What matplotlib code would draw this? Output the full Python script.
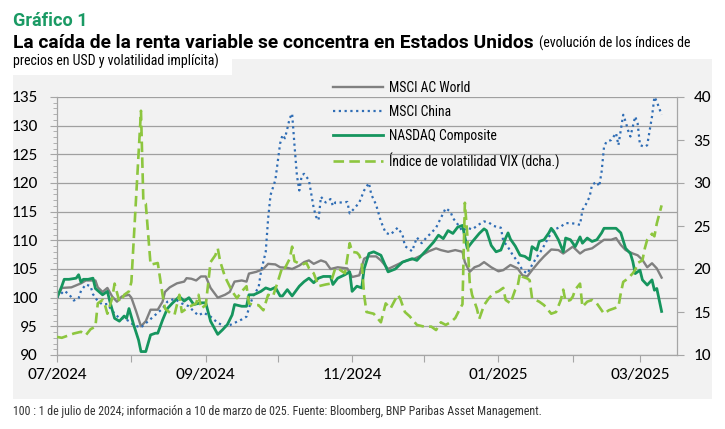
import matplotlib
matplotlib.use("Agg")
import matplotlib.pyplot as plt
import matplotlib.dates as mdates
from matplotlib import font_manager
from matplotlib.patches import Rectangle
from matplotlib.ticker import MultipleLocator, FuncFormatter
import pandas as pd

# ---- data (100 = 1 Jul 2024, VIX in points) ----
world_dates = ["2024-07-01", "2024-07-03", "2024-07-07", "2024-07-11", "2024-07-13", "2024-07-17",
               "2024-07-18", "2024-07-20", "2024-07-22", "2024-07-24", "2024-07-26", "2024-07-28",
               "2024-07-31", "2024-08-01", "2024-08-03", "2024-08-05", "2024-08-07", "2024-08-09",
               "2024-08-12", "2024-08-14", "2024-08-15", "2024-08-17", "2024-08-20", "2024-08-23",
               "2024-08-24", "2024-08-26", "2024-08-28", "2024-08-30", "2024-09-01", "2024-09-03",
               "2024-09-06", "2024-09-09", "2024-09-11", "2024-09-13", "2024-09-16", "2024-09-18",
               "2024-09-19", "2024-09-22", "2024-09-25", "2024-09-27", "2024-09-30", "2024-10-02",
               "2024-10-05", "2024-10-07", "2024-10-10", "2024-10-12", "2024-10-14", "2024-10-16",
               "2024-10-19", "2024-10-21", "2024-10-23", "2024-10-26", "2024-10-30", "2024-11-01",
               "2024-11-04", "2024-11-06", "2024-11-08", "2024-11-11", "2024-11-13", "2024-11-16",
               "2024-11-19", "2024-11-22", "2024-11-24", "2024-11-27", "2024-11-30", "2024-12-03",
               "2024-12-06", "2024-12-08", "2024-12-11", "2024-12-14", "2024-12-17", "2024-12-18",
               "2024-12-20", "2024-12-22", "2024-12-24", "2024-12-26", "2024-12-29", "2025-01-01",
               "2025-01-03", "2025-01-06", "2025-01-09", "2025-01-11", "2025-01-13", "2025-01-15",
               "2025-01-18", "2025-01-20", "2025-01-23", "2025-01-26", "2025-01-28", "2025-01-30",
               "2025-02-01", "2025-02-04", "2025-02-06", "2025-02-09", "2025-02-12", "2025-02-14",
               "2025-02-17", "2025-02-19", "2025-02-21", "2025-02-23", "2025-02-26", "2025-02-28",
               "2025-03-02", "2025-03-04", "2025-03-06", "2025-03-08", "2025-03-10"]
world = [100, 101.7, 101.8, 102.5, 103, 103, 101.8, 101, 101.7, 100.2, 99.3, 100.2,
         100.5, 100, 97.6, 95, 95.9, 97.9, 97.9, 99.3, 101, 101.8, 102.5, 102.8,
         103.4, 103.3, 103, 103.7, 103.7, 101.7, 100, 100.5, 101, 102.8, 103, 102.8,
         104.2, 104.5, 105, 105.9, 105.8, 105.3, 105.2, 105, 105.6, 106.2, 106.5, 105.9,
         106.5, 106.2, 105, 105.3, 105.1, 103.6, 103.9, 106.8, 107.2, 107.2, 106.5, 105,
         105.6, 106.2, 106.5, 106.8, 107.4, 108.1, 108.6, 108.3, 108, 108.3, 108, 106.2,
         104.5, 105.3, 105.6, 106.2, 105.3, 104.6, 104.8, 105.7, 105.1, 103.9, 103.7, 104.8,
         106.3, 107.2, 108.4, 108.3, 107.7, 108.3, 108.9, 107.7, 108.3, 108.6, 109.5, 110.1,
         110.1, 110.4, 109.2, 108.3, 107.7, 107.4, 106.6, 105.3, 106, 105.1, 103.5]

china_dates = ["2024-07-01", "2024-07-04", "2024-07-06", "2024-07-08", "2024-07-10", "2024-07-11",
               "2024-07-13", "2024-07-15", "2024-07-16", "2024-07-18", "2024-07-20", "2024-07-22",
               "2024-07-24", "2024-07-27", "2024-07-29", "2024-07-31", "2024-08-02", "2024-08-05",
               "2024-08-08", "2024-08-11", "2024-08-14", "2024-08-16", "2024-08-19", "2024-08-22",
               "2024-08-25", "2024-08-27", "2024-08-29", "2024-08-31", "2024-09-03", "2024-09-06",
               "2024-09-09", "2024-09-11", "2024-09-13", "2024-09-16", "2024-09-18", "2024-09-19",
               "2024-09-21", "2024-09-23", "2024-09-24", "2024-09-26", "2024-09-27", "2024-09-28",
               "2024-09-30", "2024-10-01", "2024-10-02", "2024-10-03", "2024-10-04", "2024-10-05",
               "2024-10-06", "2024-10-07", "2024-10-08", "2024-10-09", "2024-10-10", "2024-10-11",
               "2024-10-12", "2024-10-14", "2024-10-16", "2024-10-17", "2024-10-18", "2024-10-19",
               "2024-10-21", "2024-10-23", "2024-10-24", "2024-10-25", "2024-10-28", "2024-10-30",
               "2024-10-31", "2024-11-02", "2024-11-04", "2024-11-06", "2024-11-08", "2024-11-09",
               "2024-11-11", "2024-11-13", "2024-11-15", "2024-11-17", "2024-11-20", "2024-11-22",
               "2024-11-23", "2024-11-25", "2024-11-26", "2024-11-28", "2024-11-30", "2024-12-02",
               "2024-12-04", "2024-12-06", "2024-12-08", "2024-12-10", "2024-12-12", "2024-12-13",
               "2024-12-15", "2024-12-17", "2024-12-19", "2024-12-21", "2024-12-24", "2024-12-26",
               "2024-12-28", "2024-12-30", "2025-01-02", "2025-01-03", "2025-01-05", "2025-01-07",
               "2025-01-09", "2025-01-11", "2025-01-12", "2025-01-13", "2025-01-15", "2025-01-17",
               "2025-01-19", "2025-01-22", "2025-01-24", "2025-01-27", "2025-01-29", "2025-01-31",
               "2025-02-02", "2025-02-04", "2025-02-05", "2025-02-06", "2025-02-08", "2025-02-09",
               "2025-02-11", "2025-02-12", "2025-02-13", "2025-02-14", "2025-02-15", "2025-02-17",
               "2025-02-19", "2025-02-20", "2025-02-22", "2025-02-23", "2025-02-24", "2025-02-25",
               "2025-02-27", "2025-02-28", "2025-03-01", "2025-03-03", "2025-03-04", "2025-03-06",
               "2025-03-07", "2025-03-08", "2025-03-10"]
china = [100, 101.2, 100.6, 99.5, 99.9, 101.2, 102.3, 102, 100.6, 99.4, 98.8, 98.9,
         97.7, 96.4, 96.4, 95.9, 95.2, 94.8, 95.9, 97, 98.1, 99.3, 99.8, 99,
         98.5, 97.6, 96.9, 97.4, 96.7, 95.6, 95, 95.2, 95.6, 96.2, 96.7, 98.2,
         100.6, 101.7, 104.5, 108, 113.8, 117.9, 120.5, 123.7, 126.9, 128.4, 127.8, 129.5,
         131.3, 132.1, 126.5, 121.3, 118.7, 121.3, 121.6, 120.5, 115.6, 114.1, 113.5, 117.6,
         116.6, 117.2, 116, 116.6, 116.6, 116.7, 114.7, 115.6, 116.6, 118.7, 120, 118,
         116.2, 113.3, 111.3, 111, 112.2, 111, 109, 108.4, 108.1, 110.5, 109.5, 110.5,
         111.3, 112.2, 113.9, 115.6, 115, 113.9, 112.8, 111.6, 112.2, 111.9, 112.8, 113.3,
         113.1, 112.5, 112.2, 109.9, 108.8, 107.4, 106.3, 104.8, 104.5, 104.2, 105.7, 107.1,
         108.3, 110.6, 111.8, 112.4, 113, 113, 112.9, 112.7, 115.3, 115.9, 117.6, 119.7,
         120.2, 119.4, 122, 126.3, 127.2, 127.5, 128.7, 126.6, 131.9, 130.7, 129.2, 128.1,
         131.6, 130.4, 126.6, 126.3, 126.6, 131.6, 135, 134.2, 131.9]

nasdaq_dates = ["2024-07-01", "2024-07-03", "2024-07-04", "2024-07-06", "2024-07-09", "2024-07-10",
                "2024-07-11", "2024-07-12", "2024-07-14", "2024-07-16", "2024-07-17", "2024-07-20",
                "2024-07-22", "2024-07-23", "2024-07-25", "2024-07-27", "2024-07-29", "2024-07-30",
                "2024-07-31", "2024-08-02", "2024-08-04", "2024-08-05", "2024-08-07", "2024-08-09",
                "2024-08-11", "2024-08-12", "2024-08-14", "2024-08-16", "2024-08-18", "2024-08-21",
                "2024-08-23", "2024-08-25", "2024-08-27", "2024-08-30", "2024-09-01", "2024-09-03",
                "2024-09-06", "2024-09-08", "2024-09-10", "2024-09-12", "2024-09-13", "2024-09-16",
                "2024-09-18", "2024-09-19", "2024-09-21", "2024-09-24", "2024-09-26", "2024-09-28",
                "2024-09-30", "2024-10-02", "2024-10-03", "2024-10-05", "2024-10-07", "2024-10-10",
                "2024-10-12", "2024-10-14", "2024-10-16", "2024-10-18", "2024-10-20", "2024-10-23",
                "2024-10-24", "2024-10-26", "2024-10-29", "2024-10-31", "2024-11-01", "2024-11-03",
                "2024-11-05", "2024-11-06", "2024-11-08", "2024-11-10", "2024-11-13", "2024-11-16",
                "2024-11-19", "2024-11-22", "2024-11-24", "2024-11-26", "2024-11-28", "2024-11-30",
                "2024-12-02", "2024-12-05", "2024-12-07", "2024-12-09", "2024-12-11", "2024-12-13",
                "2024-12-15", "2024-12-17", "2024-12-19", "2024-12-21", "2024-12-24", "2024-12-26",
                "2024-12-27", "2024-12-29", "2024-12-31", "2025-01-02", "2025-01-04", "2025-01-05",
                "2025-01-06", "2025-01-08", "2025-01-10", "2025-01-12", "2025-01-14", "2025-01-15",
                "2025-01-17", "2025-01-18", "2025-01-20", "2025-01-22", "2025-01-23", "2025-01-24",
                "2025-01-26", "2025-01-28", "2025-01-29", "2025-01-31", "2025-02-02", "2025-02-04",
                "2025-02-05", "2025-02-07", "2025-02-09", "2025-02-11", "2025-02-13", "2025-02-14",
                "2025-02-17", "2025-02-19", "2025-02-21", "2025-02-23", "2025-02-25", "2025-02-26",
                "2025-02-27", "2025-03-01", "2025-03-02", "2025-03-04", "2025-03-06", "2025-03-07",
                "2025-03-08", "2025-03-10"]
nasdaq = [100, 102, 103.2, 103.2, 103.4, 104, 102.7, 103.2, 103.2, 103.4, 101.6, 100.5,
          101.1, 99.4, 96.4, 95.9, 96.8, 96.4, 98.1, 95.2, 92.6, 90.6, 90.6, 93.5,
          93.8, 93.8, 96.1, 98.1, 99, 100.2, 99.4, 100, 98.8, 99.1, 99.1, 95.9,
          93.6, 94.4, 95.3, 97, 98.8, 98.5, 98.5, 100.5, 100.5, 101.1, 101.7, 101.4,
          101.8, 100.3, 100.3, 101.4, 100.3, 102, 102.8, 103.4, 102.6, 103.4, 103.7, 103.7,
          102.3, 103.4, 104, 104.5, 101.1, 102, 101.7, 105, 107.7, 108, 107.4, 104.5,
          105, 106.2, 106.5, 106.8, 106.5, 107.4, 108.3, 109.7, 110.9, 110.3, 111.7, 111.2,
          112.3, 112.6, 108.6, 109.7, 111.2, 112, 111.7, 109.1, 108, 108.3, 110.4, 111.3,
          110.2, 109, 107.4, 107.2, 106.6, 108.9, 108.3, 109.8, 110.1, 111.3, 112.1, 111.6,
          110.1, 108, 110.4, 110.1, 108.9, 110.6, 109.5, 110.4, 109.8, 110.1, 111.3, 112.1,
          112.1, 112.1, 111.3, 108.6, 107.7, 106.3, 104.2, 104.8, 103.1, 102.2, 103.1, 101.3,
          101.6, 97.6]

vix_dates = ["2024-07-01", "2024-07-03", "2024-07-06", "2024-07-08", "2024-07-11", "2024-07-13",
             "2024-07-15", "2024-07-17", "2024-07-18", "2024-07-20", "2024-07-21", "2024-07-22",
             "2024-07-24", "2024-07-25", "2024-07-27", "2024-07-28", "2024-07-29", "2024-07-31",
             "2024-08-01", "2024-08-02", "2024-08-05", "2024-08-06", "2024-08-07", "2024-08-09",
             "2024-08-12", "2024-08-14", "2024-08-15", "2024-08-18", "2024-08-19", "2024-08-21",
             "2024-08-22", "2024-08-25", "2024-08-28", "2024-08-29", "2024-08-30", "2024-09-01",
             "2024-09-03", "2024-09-05", "2024-09-06", "2024-09-07", "2024-09-09", "2024-09-12",
             "2024-09-14", "2024-09-16", "2024-09-18", "2024-09-19", "2024-09-21", "2024-09-23",
             "2024-09-25", "2024-09-27", "2024-09-29", "2024-10-01", "2024-10-03", "2024-10-04",
             "2024-10-06", "2024-10-07", "2024-10-08", "2024-10-11", "2024-10-13", "2024-10-14",
             "2024-10-16", "2024-10-18", "2024-10-21", "2024-10-23", "2024-10-25", "2024-10-27",
             "2024-10-29", "2024-10-31", "2024-11-01", "2024-11-03", "2024-11-04", "2024-11-05",
             "2024-11-06", "2024-11-07", "2024-11-10", "2024-11-13", "2024-11-15", "2024-11-17",
             "2024-11-20", "2024-11-21", "2024-11-23", "2024-11-25", "2024-11-28", "2024-12-01",
             "2024-12-04", "2024-12-06", "2024-12-08", "2024-12-10", "2024-12-12", "2024-12-14",
             "2024-12-16", "2024-12-17", "2024-12-18", "2024-12-19", "2024-12-20", "2024-12-21",
             "2024-12-23", "2024-12-24", "2024-12-26", "2024-12-28", "2024-12-30", "2025-01-01",
             "2025-01-03", "2025-01-04", "2025-01-06", "2025-01-08", "2025-01-09", "2025-01-10",
             "2025-01-11", "2025-01-13", "2025-01-14", "2025-01-15", "2025-01-18", "2025-01-20",
             "2025-01-23", "2025-01-25", "2025-01-27", "2025-01-28", "2025-01-29", "2025-01-31",
             "2025-02-01", "2025-02-02", "2025-02-04", "2025-02-05", "2025-02-07", "2025-02-09",
             "2025-02-11", "2025-02-13", "2025-02-14", "2025-02-16", "2025-02-18", "2025-02-20",
             "2025-02-21", "2025-02-22", "2025-02-24", "2025-02-26", "2025-02-27", "2025-02-28",
             "2025-03-02", "2025-03-03", "2025-03-04", "2025-03-06", "2025-03-07", "2025-03-08",
             "2025-03-10"]
vix = [12.1, 12, 12.3, 12.5, 12.7, 12.3, 13, 13.3, 16, 16.4, 15.8, 14.8,
       16.6, 18.3, 16.2, 16.4, 17, 17.4, 18.5, 23.5, 38.4, 27.8, 27.6, 20.5,
       20.7, 17, 15.4, 14.7, 14.7, 17, 15, 15.6, 16, 17, 15.4, 15.8,
       20.8, 21.6, 22.4, 20.9, 19.1, 17.4, 16.6, 17.4, 18, 16, 15.8, 15.8,
       15.2, 17, 16.8, 18.5, 20.3, 20.1, 21.2, 22.6, 20.9, 20.5, 20.7, 20.1,
       19.5, 18, 18.2, 18.3, 20.1, 19.9, 19.5, 23, 22, 21.9, 21.6, 20.8,
       17, 15, 14.8, 13.8, 16, 15.4, 17, 16.6, 15, 14.5, 13.5, 13.3,
       13.3, 12.9, 13.8, 13.5, 13.8, 14.3, 15.4, 15.9, 27.7, 24, 18.5, 17,
       15.4, 14.2, 15.8, 16.6, 17.2, 17.4, 17.8, 16.4, 16, 17.6, 18, 19.5,
       19.1, 18.9, 18.7, 16.6, 16.2, 15.8, 14.8, 15, 16.4, 17.6, 16.2, 16.4,
       16.8, 17.6, 18.3, 15.6, 16.2, 16.4, 16, 15.2, 14.8, 15.2, 15.4, 15.6,
       17.2, 18.5, 18.9, 19.5, 19.9, 20.7, 21, 22.4, 23.4, 24.1, 23.8, 25.3,
       27.4]

labels = ["MSCI AC World", "MSCI China", "NASDAQ Composite", "Índice de volatilidad VIX (dcha.)"]
shown_months = [7, 9, 11, 1, 3]


def pick(*names):
    have = {f.name for f in font_manager.fontManager.ttflist}
    for n in names:
        if n in have:
            return n
    return "DejaVu Sans"


narrow = pick("Liberation Sans Narrow", "Roboto Condensed", "Roboto")
wide = pick("Roboto", "Open Sans")
tickfont = pick("Carlito", "Lato", "Open Sans")

W, H = 725, 429
fig = plt.figure(figsize=(W / 100, H / 100), dpi=100)
fig.patch.set_facecolor("white")

# grey panel behind the chart
fig.patches.append(Rectangle((13 / W, 1 - 399 / H), (712 - 13) / W, (399 - 75) / H,
                             transform=fig.transFigure, facecolor="#f2f2f2", edgecolor="none", zorder=-5))
fig.patches.append(Rectangle((232 / W, 1 - 75 / H), (712 - 232) / W, (75 - 59) / H,
                             transform=fig.transFigure, facecolor="#f2f2f2", edgecolor="none", zorder=-5))

ax = fig.add_axes([57 / W, 1 - 355 / H, (677 - 57) / W, (355 - 97) / H])
ax.set_facecolor("none")
ax2 = ax.twinx()

l1, = ax.plot(pd.to_datetime(world_dates), world, color="#808080", lw=1.7, label=labels[0])
l2, = ax.plot(pd.to_datetime(china_dates), china, color="#2f6db5", lw=1.6, ls=(0, (1, 1.6)), label=labels[1])
l3, = ax.plot(pd.to_datetime(nasdaq_dates), nasdaq, color="#16955e", lw=2.0, label=labels[2])
l4, = ax2.plot(pd.to_datetime(vix_dates), vix, color="#8dc63f", lw=1.9, ls=(0, (4, 2)), label=labels[3])

ax.set_ylim(90, 135)
ax2.set_ylim(10, 40)
ax.set_xlim(pd.Timestamp("2024-07-01"), pd.Timestamp("2025-03-16 10:00"))

ax.yaxis.set_major_locator(MultipleLocator(5))
ax.yaxis.set_minor_locator(MultipleLocator(1))
ax2.yaxis.set_major_locator(MultipleLocator(5))
ax.xaxis.set_major_locator(mdates.MonthLocator())
ax.xaxis.set_major_formatter(FuncFormatter(
    lambda v, p: mdates.num2date(v).strftime("%m/%Y") if mdates.num2date(v).month in shown_months else ""))

ax.grid(axis="y", which="major", color="#a0a0a0", lw=0.9)
ax.set_axisbelow(True)

spine_c = "#a6a6a6"
for a in (ax, ax2):
    for s in a.spines.values():
        s.set_visible(False)
ax.spines["left"].set_visible(True)
ax.spines["bottom"].set_visible(True)
ax2.spines["right"].set_visible(True)
for s in (ax.spines["left"], ax.spines["bottom"], ax2.spines["right"]):
    s.set_color(spine_c)
    s.set_linewidth(0.9)

ax.tick_params(axis="y", which="major", length=5, color=spine_c, pad=9, labelsize=12.5)
ax.tick_params(axis="y", which="minor", length=3, color=spine_c)
ax.tick_params(axis="x", length=5, color=spine_c, pad=4, labelsize=12.5)
ax2.tick_params(axis="y", length=5, color=spine_c, pad=7, labelsize=12.5)
for t in ax.get_xticklabels() + ax.get_yticklabels() + ax2.get_yticklabels():
    t.set_fontfamily(tickfont)

ax2.legend(handles=[l1, l2, l3, l4], loc="upper left", bbox_to_anchor=(333 / W, 1 - 81 / H),
           bbox_transform=fig.transFigure, frameon=False, handlelength=3.7, handletextpad=0.4,
           labelspacing=0.72, borderpad=0, borderaxespad=0,
           prop={"family": narrow, "size": 9.8})

# titles
fig.text(13 / W, 1 - 26 / H, "Gráfico 1", color="#1a9a64", fontsize=13, fontweight="bold",
         family=wide, va="baseline")
t1 = fig.text(13 / W, 1 - 48 / H, "La caída de la renta variable se concentra en Estados Unidos",
              color="black", fontsize=13.8, fontweight="bold", family=wide, va="baseline")
r = fig.canvas.get_renderer()
bb = t1.get_window_extent(r)
fig.text((bb.x1 + 5) / W, 1 - 48 / H, "(evolución de los índices de", color="black",
         fontsize=10, family=narrow, va="baseline")
fig.text(13 / W, 1 - 66 / H, "precios en USD y volatilidad implícita)", color="black",
         fontsize=10, family=narrow, va="baseline")
fig.text(13 / W, 1 - 415 / H,
         "100 : 1 de julio de 2024; información a 10 de marzo de 025. Fuente: Bloomberg, BNP Paribas Asset Management.",
         color="#333333", fontsize=8.6, family=narrow, va="baseline")

fig.savefig("out.png", dpi=100, facecolor="white")
